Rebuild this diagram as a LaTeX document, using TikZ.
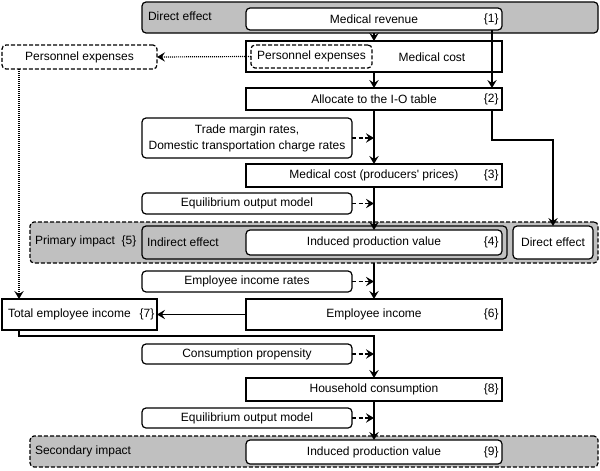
\documentclass[tikz,border=0pt]{standalone}
\usepackage{fontspec}
\setmainfont{Liberation Sans}
\usetikzlibrary{arrows.meta}
\definecolor{boxgray}{RGB}{192,192,192}
\begin{document}
\begin{tikzpicture}[x=0.75pt,y=-0.75pt,
  every node/.style={font=\fontsize{9}{12}\selectfont, inner sep=0pt, outer sep=0pt},
  sq/.style={draw, line width=0.9pt, fill=white},
  rnd/.style={draw, line width=0.9pt, fill=white, rounded corners=3pt},
  grayr/.style={draw, line width=0.9pt, fill=boxgray, rounded corners=3pt},
  grayd/.style={draw, line width=0.9pt, fill=boxgray, rounded corners=3pt, dash pattern=on 3pt off 1.5pt},
  dbox/.style={draw, line width=0.9pt, fill=white, rounded corners=3pt, dash pattern=on 3pt off 1.5pt},
  tip/.style={-{Stealth[length=6pt,width=7pt,inset=2.3pt]}},
  flow/.style={line width=1.05pt, tip},
  dflow/.style={line width=1.05pt, tip, dash pattern=on 3pt off 2pt},
  dotflow/.style={line width=0.9pt, tip, dash pattern=on 0.7pt off 0.8pt},
  num/.style={anchor=east}
]
\useasboundingbox (0,0) rectangle (600,471);

% gray group boxes
\node[grayr, minimum width=342pt, minimum height=23.25pt] (topgray) at (370,17.5) {};
\node[anchor=west] (tdirect) at (148,16.5) {Direct effect};
\node[grayd, minimum width=426pt, minimum height=30.75pt] (primary) at (314,242.5) {};
\node[anchor=west] (tprimary) at (35,241.5) {Primary impact\hspace{5pt}\{5\}};
\node[grayr, minimum width=273.75pt, minimum height=24.75pt] (indirect) at (324.5,242.5) {};
\node[anchor=west] (tindirect) at (147,242.5) {Indirect effect};
\node[grayd, minimum width=426pt, minimum height=23.25pt] (secondary) at (314,451.5) {};
\node[anchor=west] (tsecondary) at (35,451.5) {Secondary impact};

% main boxes
\node[rnd, minimum width=192pt, minimum height=16.5pt] (mrev) at (374,19) {Medical revenue};
\node[num] (n1) at ([xshift=-2.5pt]mrev.east) {\{1\}};

\node[sq, minimum width=192pt, minimum height=23.25pt] (mcost) at (374,56.5) {};
\node (tmcost) at (432,57) {Medical cost};
\node[dbox, minimum width=90.75pt, minimum height=17.25pt] (pein) at (311.5,56.5) {Personnel expenses};
\node[dbox, minimum width=116.25pt, minimum height=18pt] (peout) at (79.5,57) {Personnel expenses};

\node[sq, minimum width=192pt, minimum height=16.5pt] (alloc) at (374,99) {Allocate to the I-O table};
\node[num] (n2) at ([xshift=-2.5pt]alloc.east) {\{2\}};

\node[rnd, minimum width=157.5pt, minimum height=30pt, align=center] (trade) at (247,138)
  {Trade margin rates,\\Domestic transportation charge rates};

\node[sq, minimum width=192pt, minimum height=17.25pt] (mcpp) at (374,175.5) {Medical cost (producers\textquotesingle\ prices)};
\node[num] (n3) at ([xshift=-2.5pt]mcpp.east) {\{3\}};

\node[rnd, minimum width=157.5pt, minimum height=15.75pt] (eom1) at (247,203.5) {Equilibrium output model};

\node[rnd, minimum width=192pt, minimum height=18.75pt] (ipv) at (374,242.5) {Induced production value};
\node[num] (n4) at ([xshift=-2.5pt]ipv.east) {\{4\}};
\node[rnd, minimum width=60pt, minimum height=24.75pt] (direct) at (553,242.5) {Direct effect};

\node[rnd, minimum width=157.5pt, minimum height=15.75pt] (eir) at (247,281.5) {Employee income rates};

\node[sq, minimum width=192pt, minimum height=23.25pt] (ei) at (374,314.5) {Employee income};
\node[num] (n6) at ([xshift=-2.5pt]ei.east) {\{6\}};

\node[sq, minimum width=116.25pt, minimum height=23.25pt] (tei) at (79.5,314.5) {};
\node[anchor=west] (ttei) at (8,314.5) {Total employee income};
\node[num] (n7) at ([xshift=-2pt]tei.east) {\{7\}};

\node[rnd, minimum width=157.5pt, minimum height=15pt] (cp) at (247,354) {Consumption propensity};

\node[sq, minimum width=192pt, minimum height=17.25pt] (hc) at (374,389.5) {Household consumption};
\node[num] (n8) at ([xshift=-2.5pt]hc.east) {\{8\}};

\node[rnd, minimum width=157.5pt, minimum height=15pt] (eom2) at (247,418) {Equilibrium output model};

\node[rnd, minimum width=192pt, minimum height=18pt] (ipv2) at (374,452) {Induced production value};
\node[num] (n9) at ([xshift=-2.5pt]ipv2.east) {\{9\}};

% coordinates
\coordinate (rtop) at (492,0);
\coordinate (bend1) at (492,140);
\coordinate (bend2) at (553,140);
\coordinate (bend3) at (19,336);
\coordinate (bend4) at (374,336);
\coordinate (pedown) at (19,0);

% connectors
\draw[flow] (topgray.south -| mcost.north) -- (mcost.north);
\draw[flow] (mrev.south -| rtop) -- (alloc.north -| rtop);
\draw[flow] (mcost.south) -- (alloc.north);
\draw[flow] (alloc.south) -- (mcpp.north);
\draw[dflow] (trade.east) -- (trade.east -| mcpp.north);
\draw[flow] (mcpp.south) -- (ipv.north);
\draw[dflow] (eom1.east) -- (eom1.east -| mcpp.north);
\draw[flow] (alloc.south -| rtop) -- (bend1) -- (bend2) -- (direct.north);
\draw[flow] (primary.south -| ei.north) -- (ei.north);
\draw[dflow] (eir.east) -- (eir.east -| ei.north);
\draw[flow] (ei.west) -- (tei.east);
\draw[flow] (tei.south -| bend3) -- (bend3) -- (bend4) -- (hc.north);
\draw[dflow] (cp.east) -- (cp.east -| hc.north);
\draw[flow] (hc.south) -- (ipv2.north);
\draw[dflow] (eom2.east) -- (eom2.east -| hc.north);
\draw[dotflow] (pein.west) -- (peout.east);
\draw[dotflow] (peout.south -| pedown) -- (tei.north -| pedown);
\end{tikzpicture}
\end{document}
